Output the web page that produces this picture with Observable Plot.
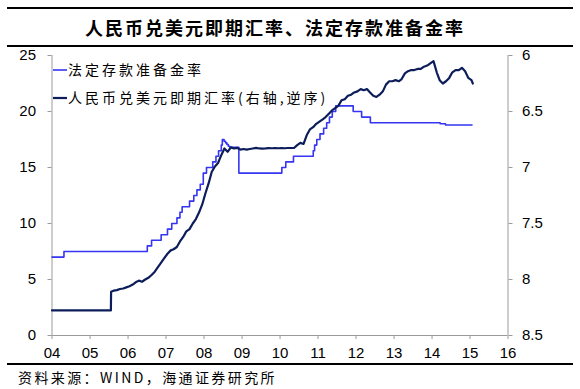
<!DOCTYPE html>
<html><head><meta charset="utf-8">
<script src="https://cdn.jsdelivr.net/npm/d3@7"></script>
<script src="https://cdn.jsdelivr.net/npm/@observablehq/plot@0.6"></script>
<style>
body{margin:0;background:#fff;}
#wrap{position:relative;width:580px;height:389px;overflow:hidden;}
.rule{position:absolute;left:7px;width:566px;height:2px;background:#000;}
#title{position:absolute;left:0;top:10px;width:550px;text-align:center;font:bold 18px "Noto Sans CJK SC";letter-spacing:2px;line-height:34px;color:#000;}
#chart{position:absolute;left:0;top:47px;}
#caption{position:absolute;left:18px;top:367px;font:14px "Noto Sans CJK SC";letter-spacing:2.4px;line-height:20px;color:#000;}
</style></head>
<body>
<div id="wrap">
  <div class="rule" style="top:7px"></div>
  <div id="title">人民币兑美元即期汇率、法定存款准备金率</div>
  <div class="rule" style="top:45px"></div>
  <div id="chart"></div>
  <div class="rule" style="top:363px"></div>
  <div id="caption">资料来源：WIND，海通证券研究所</div>
</div>
<script>
// ---- Data ----
const seriesNames = ["法定存款准备金率", "人民币兑美元即期汇率(右轴,逆序)"];
const xTickLabels = ["04","05","06","07","08","09","10","11","12","13","14","15","16"];
const leftTicks = [0, 5, 10, 15, 20, 25];
const rightTicks = [6, 6.5, 7, 7.5, 8, 8.5];

// Reserve requirement ratio (%), change dates and new levels (step series)
const rrrDates = ["2004-01-01","2004-04-25","2006-07-05","2006-08-15","2006-11-15",
  "2007-01-15","2007-02-25","2007-04-16","2007-05-15","2007-06-05","2007-08-15","2007-09-25",
  "2007-10-25","2007-11-26","2007-12-25","2008-01-25","2008-03-25","2008-04-25","2008-05-20",
  "2008-06-15","2008-06-25","2008-07-12","2008-07-26","2008-08-08","2008-08-22","2008-09-05",
  "2008-12-01","2010-01-18","2010-02-25","2010-05-10","2010-11-16","2010-11-29","2010-12-20",
  "2011-01-20","2011-02-24","2011-03-25","2011-04-21","2011-05-18","2011-06-20","2011-12-05",
  "2012-02-24","2012-05-18","2014-03-20","2014-05-10","2015-01-20"];
const rrrValues = [7, 7.5, 8, 8.5, 9,
  9.5, 10, 10.5, 11, 11.5, 12, 12.5,
  13, 13.5, 14.5, 15, 15.5, 16, 16.5,
  17, 17.5, 17.35, 17.2, 17.05, 16.9, 16.8,
  14.5, 15, 15.5, 16, 16.5, 17, 17.5,
  18, 18.5, 19, 19.5, 20, 20.5, 20,
  19.5, 19, 18.9, 18.8, 18.8];

// USD/CNY spot rate: peg period then monthly readings
const fxPegDates = ["2004-01-01", "2005-07-20"];
const fxPegValues = [8.2765, 8.2765];
const fxStartMonth = "2005-07"; // first monthly reading (after 2005-07-21 reform)
const fxMonthly = [
  8.11, 8.10, 8.095, 8.085, 8.08, 8.07,
  8.06, 8.045, 8.025, 8.01, 8.02, 8.00, 7.985, 7.96, 7.93, 7.89, 7.85, 7.81,
  7.77, 7.74, 7.73, 7.71, 7.66, 7.62, 7.57, 7.55, 7.50, 7.46, 7.40, 7.33,
  7.23, 7.14, 7.04, 6.99, 6.96, 6.89, 6.83, 6.86, 6.82, 6.83, 6.825, 6.84,
  6.835, 6.84, 6.835, 6.83, 6.825, 6.83, 6.832, 6.83, 6.827, 6.828, 6.827, 6.828,
  6.827, 6.828, 6.826, 6.826, 6.826, 6.80, 6.78, 6.79, 6.71, 6.66, 6.64, 6.61,
  6.59, 6.57, 6.55, 6.52, 6.49, 6.47, 6.45, 6.40, 6.39, 6.36, 6.35, 6.33,
  6.32, 6.30, 6.31, 6.30, 6.33, 6.36, 6.37, 6.35, 6.32, 6.26, 6.23, 6.23,
  6.22, 6.23, 6.21, 6.16, 6.14, 6.13, 6.13, 6.12, 6.12, 6.10, 6.09, 6.07,
  6.05, 6.15, 6.22, 6.25, 6.23, 6.20, 6.15, 6.13, 6.13, 6.11, 6.14, 6.20,
  6.22
];
const fxEndDate = "2015-01-28";
const fxEndValue = 6.25;

// ---- Build tables ----
const rrr = rrrDates.map((d, i) => ({date: new Date(d), value: rrrValues[i]}));
const fx = fxPegDates.map((d, i) => ({date: new Date(d), value: fxPegValues[i]}));
{
  const [y0, m0] = fxStartMonth.split("-").map(Number);
  fxMonthly.forEach((v, i) => {
    const d = i === 0 ? new Date(Date.UTC(y0, m0 - 1, 22)) : new Date(Date.UTC(y0, m0 - 1 + i, 15));
    fx.push({date: d, value: v});
  });
  fx.push({date: new Date(fxEndDate), value: fxEndValue});
}
// map reversed right axis (6..8.5) onto left scale (25..0)
const toLeft = v => (8.5 - v) * 10;
const fromLeft = d => +(8.5 - d / 10).toFixed(1);

const x0 = new Date("2004-01-01"), x1 = new Date("2016-01-01");
const xTicks = xTickLabels.map(s => new Date(Date.UTC(2000 + +s, 0, 1)));

const blue = "#3535f2", navy = "#0c1d5a", gray = "#9a9a9a";

const chart = Plot.plot({
  width: 580, height: 316,
  marginTop: 8, marginBottom: 28, marginLeft: 51.5, marginRight: 72.5,
  style: {fontFamily: "'Liberation Sans', Arial, sans-serif", fontSize: "15px", color: "#000", background: "#fff", overflow: "visible"},
  x: {type: "utc", domain: [x0, x1]},
  y: {domain: [0, 25]},
  marks: [
    Plot.ruleX([x0, x1], {y1: 0, y2: 25, stroke: gray, strokeWidth: 1}),
    Plot.ruleY([0], {stroke: gray, strokeWidth: 1}),
    Plot.axisY(leftTicks, {anchor: "left", tickSize: 4, tickPadding: 12, stroke: gray, fill: "#000", label: null, fontSize: 15}),
    Plot.axisY(rightTicks.map(toLeft), {anchor: "right", tickSize: 4, tickPadding: 10, stroke: gray, fill: "#000", label: null, tickFormat: fromLeft, fontSize: 15}),
    Plot.axisX(xTicks, {anchor: "bottom", tickSize: 4, tickPadding: 8, stroke: gray, fill: "#000", label: null, tickFormat: (d, i) => xTickLabels[i], fontSize: 15}),
    Plot.line(rrr, {x: "date", y: "value", curve: "step-after", stroke: blue, strokeWidth: 1.6}),
    Plot.line(fx, {x: "date", y: d => toLeft(d.value), stroke: navy, strokeWidth: 2.2})
  ]
});
document.getElementById("chart").appendChild(chart);

// legend inside plot area
const svg = d3.select(chart);
const leg = svg.append("g").attr("font-family", "'Noto Sans CJK SC'").attr("font-size", 14).attr("letter-spacing", 3).attr("text-anchor", "start");
[[blue, 1.6, 23], [navy, 2.2, 51]].forEach(([c, w, yy], i) => {
  leg.append("line").attr("x1", 53).attr("x2", 67).attr("y1", yy).attr("y2", yy).attr("stroke", c).attr("stroke-width", w);
  leg.append("text").attr("x", 68).attr("y", yy).attr("dy", "0.36em").attr("text-anchor", "start").attr("fill", "#000").text(seriesNames[i]);
});
</script>
</body></html>
